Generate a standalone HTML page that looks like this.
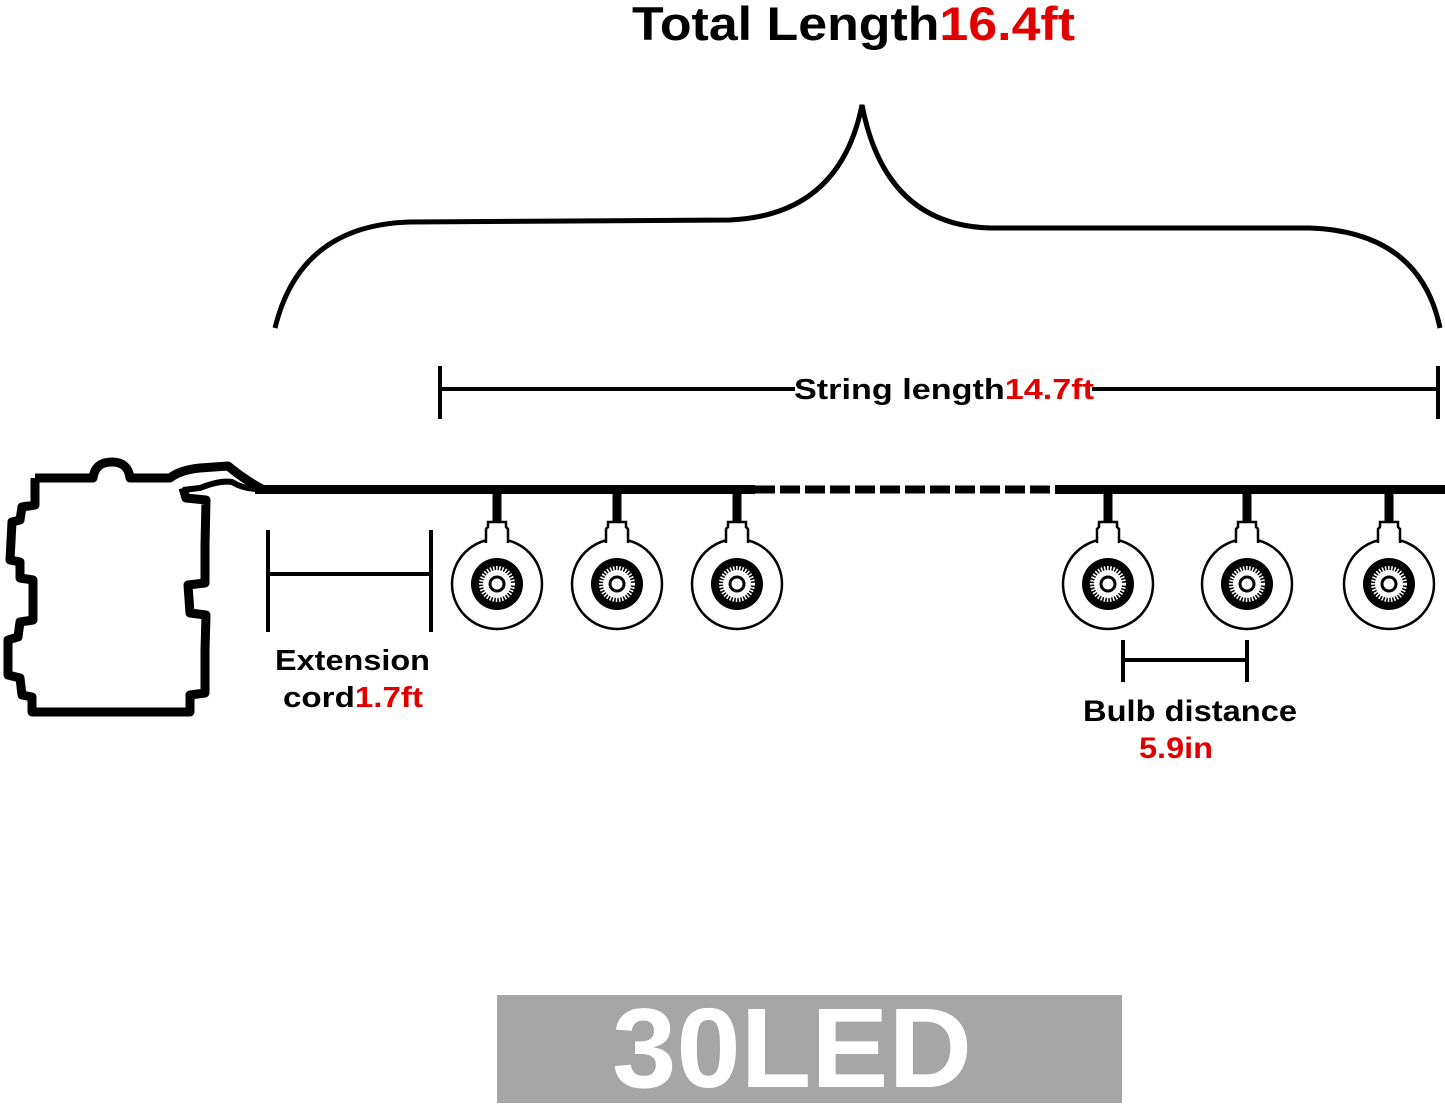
<!DOCTYPE html>
<html><head><meta charset="utf-8"><style>
html,body{margin:0;padding:0;background:#fff;}
svg{display:block;}
text{font-family:"Liberation Sans",Arial,sans-serif;font-weight:bold;}
</style></head><body>
<svg width="1445" height="1105" viewBox="0 0 1445 1105" xmlns="http://www.w3.org/2000/svg">
<defs>
<g id="bulb">
  <rect x="-4.5" y="-94" width="9" height="34" fill="#000"/>
  <circle r="45" fill="#fff" stroke="#000" stroke-width="2.5"/>
  <path d="M-11,-41 L-11,-55 L-9,-57 L-9,-62 L9,-62 L9,-57 L11,-55 L11,-41" fill="#fff" stroke="#000" stroke-width="2.5"/>
  <rect x="-9.5" y="-46" width="19" height="6" fill="#fff"/>
  <circle r="26" fill="#000"/>
  <circle r="14" fill="#fff"/>
  <circle r="15.5" fill="none" stroke="#fff" stroke-width="5" stroke-dasharray="1.5 1.5"/>
  <circle r="7" fill="none" stroke="#000" stroke-width="3"/>
</g>
</defs>
<rect width="1445" height="1105" fill="#fff"/>

<text x="632" y="40" font-size="47" textLength="443" lengthAdjust="spacingAndGlyphs"><tspan fill="#000">Total Length</tspan><tspan fill="#e00000">16.4ft</tspan></text>

<path d="M275,328 Q300,225 410,222 L730,220 Q840,215 862,105 Q885,225 990,228 L1310,228 Q1420,232 1440,328" fill="none" stroke="#000" stroke-width="5"/>

<line x1="440" y1="389" x2="795" y2="389" stroke="#000" stroke-width="4"/>
<line x1="1092" y1="389" x2="1438" y2="389" stroke="#000" stroke-width="4"/>
<line x1="440" y1="366" x2="440" y2="419" stroke="#000" stroke-width="4"/>
<line x1="1438" y1="366" x2="1438" y2="419" stroke="#000" stroke-width="4"/>
<text x="794" y="399" font-size="29" textLength="300" lengthAdjust="spacingAndGlyphs"><tspan fill="#000">String length</tspan><tspan fill="#e00000">14.7ft</tspan></text>

<!-- battery box -->
<path d="M35,478 L93,478 Q95,462 112,462 Q128,462 130,478 L170,478 Q180,470 200,468 L228,466 Q245,480 262,489 M183,488 L186,498 L206,500 L205,545 L205,583 L188,585 L190,613 L206,615 L205,650 L205,693 L190,695 L190,712 L32,712 L32,697 L22,695 L20,678 L8,675 L8,640 L18,637 L20,622 L33,620 L33,580 L20,578 L20,562 L10,560 L12,522 L20,520 L22,507 L35,505 L35,478" fill="none" stroke="#000" stroke-width="9" stroke-linejoin="round"/>
<path d="M183,490 L200,488 Q220,480 232,482 Q245,490 262,489" fill="none" stroke="#000" stroke-width="6"/>

<rect x="255" y="485" width="500" height="9" fill="#000"/>
<rect x="1055" y="485" width="390" height="9" fill="#000"/>
<line x1="755" y1="489.5" x2="1058" y2="489.5" stroke="#000" stroke-width="8" stroke-dasharray="20 5"/>

<use href="#bulb" x="497" y="584"/>
<use href="#bulb" x="617" y="584"/>
<use href="#bulb" x="737" y="584"/>
<use href="#bulb" x="1108" y="584"/>
<use href="#bulb" x="1247" y="584"/>
<use href="#bulb" x="1389" y="584"/>

<line x1="268" y1="530" x2="268" y2="632" stroke="#000" stroke-width="4"/>
<line x1="431" y1="530" x2="431" y2="632" stroke="#000" stroke-width="4"/>
<line x1="268" y1="574" x2="431" y2="574" stroke="#000" stroke-width="4"/>
<text x="275" y="670" font-size="29" textLength="155" lengthAdjust="spacingAndGlyphs" fill="#000">Extension</text>
<text x="283" y="707" font-size="29" textLength="140" lengthAdjust="spacingAndGlyphs"><tspan fill="#000">cord</tspan><tspan fill="#e00000">1.7ft</tspan></text>

<line x1="1123" y1="640" x2="1123" y2="682" stroke="#000" stroke-width="4"/>
<line x1="1247" y1="640" x2="1247" y2="682" stroke="#000" stroke-width="4"/>
<line x1="1123" y1="660" x2="1247" y2="660" stroke="#000" stroke-width="4"/>
<text x="1083" y="721" font-size="30" textLength="214" lengthAdjust="spacingAndGlyphs" fill="#000">Bulb distance</text>
<text x="1139" y="758" font-size="30" textLength="74" lengthAdjust="spacingAndGlyphs" fill="#e00000">5.9in</text>

<rect x="497" y="995" width="625" height="108" fill="#a6a6a6"/>
<text x="612" y="1087" font-size="113" textLength="360" lengthAdjust="spacingAndGlyphs" fill="#fff">30LED</text>
</svg>
</body></html>
